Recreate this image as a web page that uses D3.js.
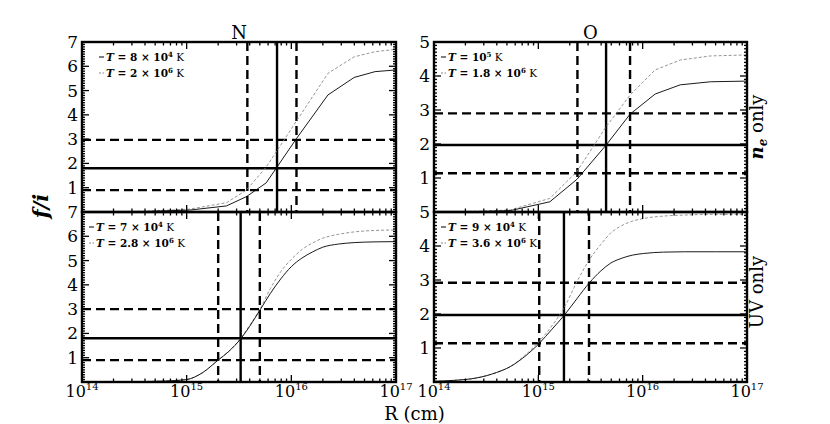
<!DOCTYPE html>
<html>
<head>
<meta charset="utf-8">
<script src="https://cdn.jsdelivr.net/npm/d3@7"></script>
<style>
  body { margin: 0; background: #fff; }
  text { font-family: "DejaVu Serif", "Liberation Serif", serif; fill: #000; }
</style>
</head>
<body>
<svg id="chart" width="830" height="424"></svg>
<script>
// ---- data ----
const xTickVals = [1e14, 1e15, 1e16, 1e17];
const xTickExps = ["14", "15", "16", "17"];

// N, n_e only
const nNeLogR = [14.0, 14.6, 15.03, 15.38, 15.57, 15.76, 16.05, 16.35, 16.6, 16.8, 17.0];
const nNeCool = [0.0, 0.02, 0.08, 0.25, 0.63, 1.2, 3.03, 4.82, 5.54, 5.78, 5.85];
const nNeHot = [0.0, 0.03, 0.12, 0.38, 0.9, 1.85, 3.75, 5.71, 6.39, 6.6, 6.7];
const nNeH = [0.9, 1.8, 2.97];
const nNeV = [3.8e15, 7.3e15, 1.12e16];
const nNeLabels = [["8 × 10", "4"], ["2 × 10", "6"]];

// O, n_e only
const oNeLogR = [14.0, 14.4, 14.73, 15.11, 15.37, 15.65, 15.88, 16.12, 16.36, 16.65, 17.0];
const oNeCool = [0.0, 0.01, 0.04, 0.3, 0.96, 1.97, 2.88, 3.47, 3.74, 3.83, 3.85];
const oNeHot = [0.0, 0.02, 0.06, 0.4, 1.19, 2.51, 3.44, 4.18, 4.47, 4.59, 4.62];
const oNeH = [1.14, 1.97, 2.9];
const oNeV = [2.37e15, 4.46e15, 7.57e15];
const oNeLabels = [["10", "5"], ["1.8 × 10", "6"]];

// N, UV only
const nUvLogR = [14.0, 14.3, 14.6, 14.8, 15.0, 15.15, 15.3, 15.4, 15.52, 15.6, 15.7, 15.8, 15.9, 16.0, 16.1, 16.2, 16.3, 16.45, 16.6, 16.8, 17.0];
const nUvCool = [0.0, 0.01, 0.02, 0.04, 0.1, 0.38, 0.9, 1.25, 1.8, 2.28, 2.96, 3.65, 4.25, 4.75, 5.1, 5.35, 5.55, 5.68, 5.74, 5.77, 5.78];
const nUvHot = [0.0, 0.01, 0.02, 0.04, 0.1, 0.38, 0.9, 1.25, 1.82, 2.32, 3.0, 3.85, 4.55, 5.05, 5.45, 5.72, 5.92, 6.08, 6.18, 6.24, 6.26];
const nUvH = [0.9, 1.8, 3.0];
const nUvV = [2.0e15, 3.28e15, 5.0e15];
const nUvLabels = [["7 × 10", "4"], ["2.8 × 10", "6"]];

// O, UV only
const oUvLogR = [14.0, 14.2, 14.41, 14.6, 14.73, 14.87, 15.01, 15.13, 15.25, 15.37, 15.49, 15.6, 15.69, 15.8, 15.9, 16.01, 16.2, 16.4, 16.7, 17.0];
const oUvCool = [0.02, 0.05, 0.12, 0.28, 0.45, 0.75, 1.14, 1.55, 1.97, 2.45, 2.92, 3.27, 3.49, 3.64, 3.73, 3.78, 3.82, 3.83, 3.83, 3.83];
const oUvHot = [0.02, 0.05, 0.12, 0.28, 0.45, 0.78, 1.2, 1.65, 2.2, 2.95, 3.6, 4.05, 4.37, 4.6, 4.73, 4.81, 4.88, 4.91, 4.93, 4.93];
const oUvH = [1.14, 1.97, 2.92];
const oUvV = [1.02e15, 1.76e15, 3.06e15];
const oUvLabels = [["9 × 10", "4"], ["3.6 × 10", "6"]];

// ---- layout ----
let svg = d3.select("#chart");
let colL = [82, 396], colR = [434, 747];
let rowT = [42, 212], rowB = [212, 382];

let panels = [
  { xr: colL, yr: rowT, ymax: 7, logR: nNeLogR, cool: nNeCool, hot: nNeHot, h: nNeH, v: nNeV, labels: nNeLabels, smooth: false, leg: 17, title: "N", xlab: false },
  { xr: colR, yr: rowT, ymax: 5, logR: oNeLogR, cool: oNeCool, hot: oNeHot, h: oNeH, v: oNeV, labels: oNeLabels, smooth: false, leg: 7, title: "O", xlab: false },
  { xr: colL, yr: rowB, ymax: 7, logR: nUvLogR, cool: nUvCool, hot: nUvHot, h: nUvH, v: nUvV, labels: nUvLabels, smooth: true, leg: 7, title: null, xlab: true },
  { xr: colR, yr: rowB, ymax: 5, logR: oUvLogR, cool: oUvCool, hot: oUvHot, h: oUvH, v: oUvV, labels: oUvLabels, smooth: true, leg: 7, title: null, xlab: true }
];

let defs = svg.append("defs");

panels.forEach(function (p, i) {
  let x = d3.scaleLog().domain([1e14, 1e17]).range(p.xr);
  let y = d3.scaleLinear().domain([0, p.ymax]).range([p.yr[1], p.yr[0]]);
  let g = svg.append("g");

  defs.append("clipPath").attr("id", "clip" + i)
    .append("rect")
    .attr("x", p.xr[0]).attr("y", p.yr[0])
    .attr("width", p.xr[1] - p.xr[0]).attr("height", p.yr[1] - p.yr[0]);

  let plot = g.append("g").attr("clip-path", "url(#clip" + i + ")");

  // reference lines (middle one solid, the others dashed)
  p.h.forEach(function (v, k) {
    plot.append("line")
      .attr("x1", p.xr[0]).attr("x2", p.xr[1])
      .attr("y1", y(v)).attr("y2", y(v))
      .attr("stroke", "#000").attr("stroke-width", 2.4)
      .attr("stroke-dasharray", k === 1 ? null : "9,5");
  });
  p.v.forEach(function (v, k) {
    plot.append("line")
      .attr("x1", x(v)).attr("x2", x(v))
      .attr("y1", p.yr[0]).attr("y2", p.yr[1])
      .attr("stroke", "#000").attr("stroke-width", 2.4)
      .attr("stroke-dasharray", k === 1 ? null : "9,5");
  });

  // curves
  let line = d3.line()
    .x(function (d) { return x(Math.pow(10, d[0])); })
    .y(function (d) { return y(d[1]); })
    .curve(p.smooth ? d3.curveMonotoneX : d3.curveLinear);

  plot.append("path")
    .attr("d", line(p.logR.map(function (r, k) { return [r, p.hot[k]]; })))
    .attr("fill", "none").attr("stroke", "#888").attr("stroke-width", 0.9)
    .attr("stroke-dasharray", "3,2");
  plot.append("path")
    .attr("d", line(p.logR.map(function (r, k) { return [r, p.cool[k]]; })))
    .attr("fill", "none").attr("stroke", "#000").attr("stroke-width", 0.9);

  // ticks inside on all sides
  let minorX = [];
  for (let e = 14; e < 17; e++) {
    for (let m = 2; m <= 9; m++) minorX.push(m * Math.pow(10, e));
  }
  let tk = g.append("g").attr("stroke", "#000").attr("stroke-width", 1.3);
  xTickVals.forEach(function (v) {
    tk.append("line").attr("x1", x(v)).attr("x2", x(v)).attr("y1", p.yr[1]).attr("y2", p.yr[1] - 7);
    tk.append("line").attr("x1", x(v)).attr("x2", x(v)).attr("y1", p.yr[0]).attr("y2", p.yr[0] + 7);
  });
  minorX.forEach(function (v) {
    tk.append("line").attr("x1", x(v)).attr("x2", x(v)).attr("y1", p.yr[1]).attr("y2", p.yr[1] - 3.5);
    tk.append("line").attr("x1", x(v)).attr("x2", x(v)).attr("y1", p.yr[0]).attr("y2", p.yr[0] + 3.5);
  });
  d3.range(0, p.ymax * 10 + 1).forEach(function (t) {
    let v = t / 10;
    let len = t % 10 === 0 ? 7 : 3;
    tk.append("line").attr("x1", p.xr[0]).attr("x2", p.xr[0] + len).attr("y1", y(v)).attr("y2", y(v));
    tk.append("line").attr("x1", p.xr[1]).attr("x2", p.xr[1] - len).attr("y1", y(v)).attr("y2", y(v));
  });

  // frame
  g.append("rect")
    .attr("x", p.xr[0]).attr("y", p.yr[0])
    .attr("width", p.xr[1] - p.xr[0]).attr("height", p.yr[1] - p.yr[0])
    .attr("fill", "none").attr("stroke", "#000").attr("stroke-width", 2.4);

  // y tick labels
  d3.range(1, p.ymax + 1).forEach(function (v) {
    g.append("text")
      .attr("x", p.xr[0] - 4).attr("y", y(v) + 6)
      .attr("text-anchor", "end").style("font-size", "17px")
      .text(v);
  });

  // x tick labels
  if (p.xlab) {
    xTickVals.forEach(function (v, k) {
      let t = g.append("text")
        .attr("x", x(v)).attr("y", p.yr[1] + 15)
        .attr("text-anchor", "middle").style("font-size", "16px");
      t.append("tspan").text("10");
      t.append("tspan").attr("dy", -7).style("font-size", "10px").text(xTickExps[k]);
    });
  }

  // title
  if (p.title) {
    g.append("text")
      .attr("x", (p.xr[0] + p.xr[1]) / 2).attr("y", p.yr[0] - 3)
      .attr("text-anchor", "middle").style("font-size", "18px")
      .text(p.title);
  }

  // legend
  let lx = p.xr[0] + p.leg;
  p.labels.forEach(function (lab, k) {
    let ly = p.yr[0] + 15 + k * 16;
    g.append("line")
      .attr("x1", lx).attr("x2", lx + 5).attr("y1", ly).attr("y2", ly)
      .attr("stroke", k === 0 ? "#000" : "#888").attr("stroke-width", 1)
      .attr("stroke-dasharray", k === 0 ? null : "2,1.5");
    let t = g.append("text")
      .attr("x", lx + 7).attr("y", ly + 3.5)
      .style("font-size", "10.5px").style("font-weight", "bold");
    t.append("tspan").style("font-style", "italic").text("T");
    t.append("tspan").text(" = " + lab[0]);
    t.append("tspan").attr("dy", -4).style("font-size", "7px").text(lab[1]);
    t.append("tspan").attr("dy", 4).style("font-weight", "normal").text(" K");
  });
});

// axis titles
svg.append("text")
  .attr("x", (colL[0] + colR[1]) / 2).attr("y", 420)
  .attr("text-anchor", "middle").style("font-size", "18px")
  .text("R (cm)");

svg.append("text")
  .attr("transform", "translate(48,206) rotate(-90)")
  .attr("text-anchor", "middle").style("font-size", "21px")
  .style("font-weight", "bold").style("font-style", "italic")
  .text("f/i");

let ne = svg.append("text")
  .attr("transform", "translate(763,127) rotate(-90)")
  .attr("text-anchor", "middle").style("font-size", "18px");
ne.append("tspan").style("font-weight", "bold").style("font-style", "italic").text("n");
ne.append("tspan").attr("dy", 4).style("font-size", "12px")
  .style("font-weight", "bold").style("font-style", "italic").text("e");
ne.append("tspan").attr("dy", -4).text(" only");

svg.append("text")
  .attr("transform", "translate(763,292) rotate(-90)")
  .attr("text-anchor", "middle").style("font-size", "18px")
  .text("UV only");
</script>
</body>
</html>
